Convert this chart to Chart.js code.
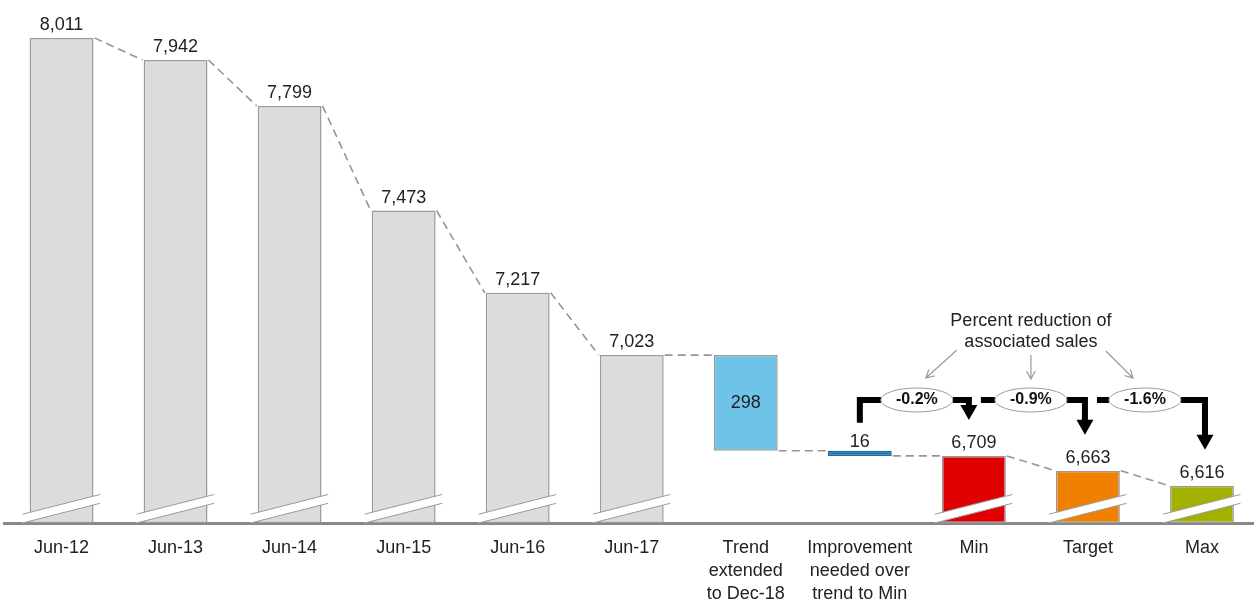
<!DOCTYPE html>
<html><head><meta charset="utf-8">
<script src="https://cdn.jsdelivr.net/npm/chart.js@4"></script>
<style>
html,body{margin:0;padding:0;overflow:hidden;width:1254px;height:602px;background:#fff}
#wrap{width:1259px;height:602px}
</style></head>
<body><div id="wrap"><canvas id="c" width="1259" height="602" style="width:1259px;height:602px"></canvas></div>
<script>
const categories = ['Jun-12','Jun-13','Jun-14','Jun-15','Jun-16','Jun-17',['Trend','extended','to Dec-18'],['Improvement','needed over','trend to Min'],'Min','Target','Max'];
const historyValues = [8011,7942,7799,7473,7217,7023];
const trendChange = 298;
const improvementChange = 16;
const scenarioValues = [6709,6663,6616];
const percentLabels = ['-0.2%','-0.9%','-1.6%'];
const calloutTitle = ['Percent reduction of','associated sales'];
const axisMin = 6500;
const axisMax = 8129;

const FONT = 'Liberation Sans, Arial, sans-serif';
const lastHist = historyValues[historyValues.length-1];
const trendEnd = lastHist - trendChange;
const impEnd = trendEnd - improvementChange;

const floating = [
  ...historyValues.map(v=>[axisMin,v]),
  [trendEnd,lastHist],
  [impEnd,trendEnd],
  ...scenarioValues.map(v=>[axisMin,v])
];
const leftLevel = [...historyValues, lastHist, trendEnd, ...scenarioValues];
const rightLevel = [...historyValues, trendEnd, impEnd, ...scenarioValues];
const labelValues = [...historyValues, trendChange, improvementChange, ...scenarioValues];
const fills = ['#DCDCDC','#DCDCDC','#DCDCDC','#DCDCDC','#DCDCDC','#DCDCDC','#6EC3E8','#1C6EA4','#E00000','#F08000','#A3B000'];
const borders = ['#9A9A9A','#9A9A9A','#9A9A9A','#9A9A9A','#9A9A9A','#9A9A9A','#9A9A9A','#1C6EA4','#9A9A9A','#9A9A9A','#9A9A9A'];

function fmt(v){return v.toLocaleString('en-US');}

const overlay = {
  id:'overlay',
  afterDraw(chart){
    const ctx = chart.ctx;
    const meta = chart.getDatasetMeta(0);
    const ys = chart.scales.y;
    const bars = meta.data;
    ctx.save();
    // dashed connectors
    ctx.strokeStyle = '#959595'; ctx.lineWidth = 1.6; ctx.setLineDash([8,5]);
    for(let i=0;i<bars.length-1;i++){
      const a = bars[i], b = bars[i+1];
      ctx.beginPath();
      ctx.moveTo(a.x + a.width/2 + 1, ys.getPixelForValue(rightLevel[i]));
      ctx.lineTo(b.x - b.width/2 - 1, ys.getPixelForValue(leftLevel[i+1]));
      ctx.stroke();
    }
    ctx.setLineDash([]);
    // break marks
    bars.forEach((b,i)=>{
      if(floating[i][0] !== axisMin) return;
      const cx = b.x, base = ys.getPixelForValue(axisMin);
      const LL=[cx-39,base], LR=[cx+38.5,base-19.7], UR=[cx+38.5,base-28.5], UL=[cx-39,base-8.8];
      ctx.fillStyle='#fff';
      ctx.beginPath(); ctx.moveTo(...LL); ctx.lineTo(...LR); ctx.lineTo(...UR); ctx.lineTo(...UL); ctx.closePath(); ctx.fill();
      ctx.strokeStyle='#9A9A9A'; ctx.lineWidth=1;
      ctx.beginPath(); ctx.moveTo(...LL); ctx.lineTo(...LR); ctx.moveTo(...UL); ctx.lineTo(...UR); ctx.stroke();
    });
    // value labels
    ctx.fillStyle='#222'; ctx.font = '18px '+FONT; ctx.textAlign='center';
    bars.forEach((b,i)=>{
      if(i===6){
        ctx.textBaseline='middle';
        ctx.fillText(fmt(labelValues[i]), b.x, (b.y+b.base)/2);
      } else {
        ctx.textBaseline='alphabetic';
        const top = Math.min(b.y,b.base);
        ctx.fillText(fmt(labelValues[i]), b.x, top-(i===7?4:8));
      }
    });
    // callout annotations
    const bracketY = 400, eRx = 36, eRy = 12;
    const pairs = [[7,8],[8,9],[9,10]];
    const arrowShift = [-5,-3,3];
    const ecx = pairs.map(p=>(bars[p[0]].x+bars[p[1]].x)/2);
    // title
    ctx.fillStyle='#222'; ctx.font='18px '+FONT; ctx.textBaseline='middle'; ctx.textAlign='center';
    ctx.fillText(calloutTitle[0], ecx[1], 321);
    ctx.fillText(calloutTitle[1], ecx[1], 342);
    // grey arrows
    ctx.strokeStyle='#9A9A9A'; ctx.lineWidth=1.2;
    const garrows = [[ecx[1]-74,350,ecx[0]+9,378],[ecx[1],355,ecx[1],379],[ecx[1]+75,351,ecx[2]-12,378]];
    garrows.forEach(([x1,y1,x2,y2])=>{
      const ang = Math.atan2(y2-y1,x2-x1), h=9, s=0.5;
      ctx.beginPath(); ctx.moveTo(x1,y1); ctx.lineTo(x2,y2);
      ctx.moveTo(x2-h*Math.cos(ang-s), y2-h*Math.sin(ang-s)); ctx.lineTo(x2,y2);
      ctx.lineTo(x2-h*Math.cos(ang+s), y2-h*Math.sin(ang+s));
      ctx.stroke();
    });
    // black brackets
    ctx.strokeStyle='#000'; ctx.fillStyle='#000'; ctx.lineWidth=6; ctx.lineJoin='miter'; ctx.lineCap='butt';
    pairs.forEach((p,i)=>{
      const xa = bars[p[0]].x + (i===0?0:arrowShift[i-1]);
      const xb = bars[p[1]].x + arrowShift[i];
      ctx.beginPath();
      if(i===0){
        const impTop = Math.min(bars[7].y,bars[7].base);
        ctx.moveTo(xa, impTop-28); ctx.lineTo(xa, bracketY); ctx.lineTo(ecx[i]-eRx, bracketY);
      } else {
        ctx.moveTo(xa+12, bracketY); ctx.lineTo(ecx[i]-eRx, bracketY);
      }
      const tipY = ys.getPixelForValue(scenarioValues[i]) - 36;
      ctx.moveTo(ecx[i]+eRx, bracketY); ctx.lineTo(xb, bracketY); ctx.lineTo(xb, tipY-14);
      ctx.stroke();
      ctx.beginPath(); ctx.moveTo(xb-8.5,tipY-15); ctx.lineTo(xb+8.5,tipY-15); ctx.lineTo(xb,tipY); ctx.closePath(); ctx.fill();
      // ellipse
      ctx.save();
      ctx.fillStyle='#fff'; ctx.strokeStyle='#9A9A9A'; ctx.lineWidth=1;
      ctx.beginPath(); ctx.ellipse(ecx[i], bracketY, eRx, eRy, 0, 0, Math.PI*2); ctx.fill(); ctx.stroke();
      ctx.fillStyle='#111'; ctx.font='bold 16px '+FONT; ctx.textAlign='center'; ctx.textBaseline='middle';
      ctx.fillText(percentLabels[i], ecx[i], bracketY);
      ctx.restore();
    });
    ctx.restore();
  }
};

new Chart(document.getElementById('c'), {
  type:'bar',
  data:{
    labels: categories,
    datasets:[{
      data: floating,
      backgroundColor: fills,
      borderColor: borders,
      borderWidth: 1.5,
      borderSkipped: false,
      barPercentage: 0.56,
      categoryPercentage: 1
    }]
  },
  options:{
    responsive:false,
    animation:false,
    layout:{padding:{left:4.5,right:0,top:0,bottom:0}},
    plugins:{legend:{display:false},tooltip:{enabled:false}},
    scales:{
      x:{
        z:1,
        grid:{display:false,drawTicks:false},
        border:{display:true,color:'#888888',width:3},
        ticks:{autoSkip:false,maxRotation:0,minRotation:0,padding:14,color:'#222',
          font:{family:FONT,size:18,lineHeight:1.27}},
        afterFit(s){ s.height = 79; }
      },
      y:{display:false,min:axisMin,max:axisMax}
    }
  },
  plugins:[overlay]
});
</script>
</body></html>
